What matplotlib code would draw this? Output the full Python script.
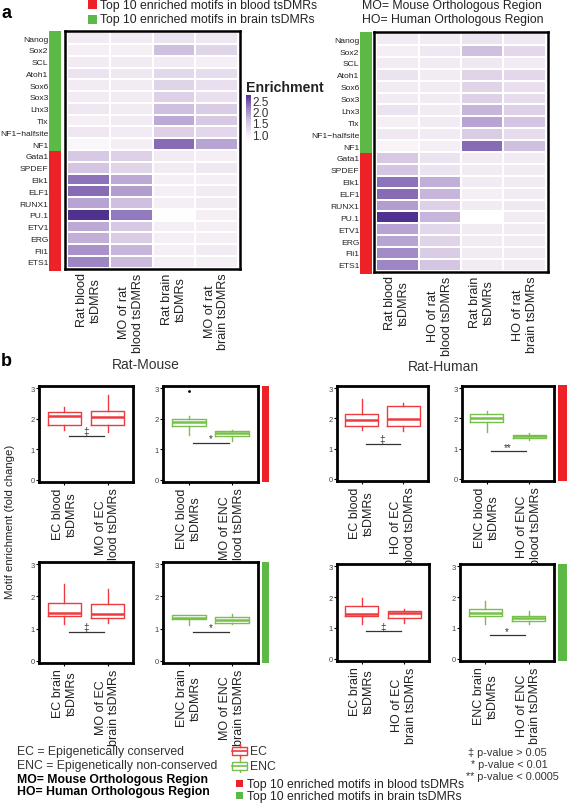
import numpy as np
import matplotlib.pyplot as plt
from matplotlib.colors import LinearSegmentedColormap
from matplotlib.patches import Rectangle

plt.rcParams['font.family'] = ['Liberation Sans', 'DejaVu Sans']

W, H = 567, 804
RED = '#ec2227'
GREEN = '#5cb946'
BOX_RED = '#ee3b3f'
BOX_GREEN = '#77c04b'

# ---- panel a data ----
motifs = ['Nanog', 'Sox2', 'SCL', 'Atoh1', 'Sox6', 'Sox3', 'Lhx3', 'Tlx',
          'NF1\u2212halfsite', 'NF1', 'Gata1', 'SPDEF', 'Elk1', 'ELF1', 'RUNX1',
          'PU.1', 'ETV1', 'ERG', 'Fli1', 'ETS1']
motif_group = ['brain'] * 10 + ['blood'] * 10

rm_cols = ['Rat blood\ntsDMRs', 'MO of rat\nblood tsDMRs',
           'Rat brain\ntsDMRs', 'MO of rat\nbrain tsDMRs']
rh_cols = ['Rat blood\ntsDMRs', 'HO of rat\nblood tsDMRs',
           'Rat brain\ntsDMRs', 'HO of rat\nbrain tsDMRs']

rm_heat = [
    [1.05, 1.05, 1.15, 1.10],
    [1.00, 1.00, 1.60, 1.35],
    [1.05, 1.05, 1.05, 1.00],
    [1.15, 1.10, 1.30, 1.25],
    [1.05, 1.05, 1.35, 1.20],
    [1.05, 1.05, 1.40, 1.20],
    [1.10, 1.05, 1.60, 1.45],
    [1.00, 1.05, 1.80, 1.50],
    [1.10, 1.05, 1.40, 1.30],
    [0.85, 1.00, 2.30, 1.85],
    [1.50, 1.40, 1.05, 1.00],
    [1.55, 1.35, 1.05, 1.10],
    [2.25, 1.80, 1.00, 1.00],
    [2.30, 1.90, 1.00, 1.05],
    [1.85, 1.60, 1.00, 1.05],
    [2.70, 2.20, 0.72, 1.00],
    [1.80, 1.50, 1.00, 1.00],
    [1.75, 1.45, 1.00, 1.00],
    [2.00, 1.70, 1.00, 1.05],
    [2.10, 1.65, 1.00, 1.00],
]
rh_heat = [
    [1.05, 1.05, 1.15, 1.10],
    [1.00, 1.10, 1.60, 1.30],
    [1.05, 1.05, 1.10, 1.05],
    [1.15, 1.05, 1.35, 1.30],
    [1.05, 1.05, 1.35, 1.20],
    [1.05, 1.05, 1.40, 1.25],
    [1.15, 1.05, 1.70, 1.40],
    [1.00, 1.05, 1.85, 1.55],
    [1.10, 1.05, 1.45, 1.25],
    [0.90, 1.00, 2.30, 1.60],
    [1.50, 1.15, 1.05, 1.05],
    [1.55, 1.15, 1.05, 1.05],
    [2.25, 1.75, 1.05, 1.05],
    [2.30, 1.70, 1.00, 1.05],
    [1.90, 1.40, 1.05, 1.10],
    [2.70, 1.70, 0.70, 1.05],
    [1.85, 1.30, 1.05, 1.05],
    [1.85, 1.35, 1.05, 1.05],
    [2.05, 1.45, 1.05, 1.05],
    [2.10, 1.55, 1.05, 1.05],
]
cbar_ticks = [1.0, 1.5, 2.0, 2.5]

# ---- panel b data: (whislo, q1, med, q3, whishi) per box ----
rm_blood_ec = [[1.64, 1.81, 2.08, 2.22, 2.38], [1.56, 1.80, 2.07, 2.26, 2.76]]
rm_blood_enc = [[1.48, 1.76, 1.89, 1.99, 2.09], [1.26, 1.43, 1.52, 1.60, 1.64]]
rm_brain_ec = [[1.13, 1.39, 1.49, 1.81, 2.40], [1.16, 1.34, 1.45, 1.77, 2.22]]
rm_brain_enc = [[1.11, 1.29, 1.34, 1.41, 1.43], [1.15, 1.18, 1.26, 1.35, 1.46]]
rh_blood_ec = [[1.62, 1.76, 1.95, 2.16, 2.63], [1.57, 1.74, 1.98, 2.41, 2.52]]
rh_blood_enc = [[1.56, 1.88, 2.01, 2.14, 2.24], [1.28, 1.36, 1.41, 1.45, 1.53]]
rh_brain_ec = [[1.13, 1.38, 1.44, 1.70, 1.96], [1.16, 1.33, 1.49, 1.56, 1.62]]
rh_brain_enc = [[1.14, 1.40, 1.47, 1.62, 1.87], [1.12, 1.23, 1.31, 1.40, 1.56]]
rm_blood_enc_fliers = [[2.92], []]

rm_blood_ec_labels = ['EC blood\ntsDMRs', 'MO of EC\nblood tsDMRs']
rm_blood_enc_labels = ['ENC blood\ntsDMRs', 'MO of ENC\nblood tsDMRs']
rm_brain_ec_labels = ['EC brain\ntsDMRs', 'MO of EC\nbrain tsDMRs']
rm_brain_enc_labels = ['ENC brain\ntsDMRs', 'MO of ENC\nbrain tsDMRs']
rh_blood_ec_labels = ['EC blood\ntsDMRs', 'HO of EC\nblood tsDMRs']
rh_blood_enc_labels = ['ENC blood\ntsDMRs', 'HO of ENC\nblood tsDMRs']
rh_brain_ec_labels = ['EC brain\ntsDMRs', 'HO of EC\nbrain tsDMRs']
rh_brain_enc_labels = ['ENC brain\ntsDMRs', 'HO of ENC\nbrain tsDMRs']

# significance bar heights and symbols
sig_y = {'rm_blood_ec': 1.45, 'rm_blood_enc': 1.21, 'rm_brain_ec': 0.90,
         'rm_brain_enc': 0.90, 'rh_blood_ec': 1.16, 'rh_blood_enc': 0.91,
         'rh_brain_ec': 0.89, 'rh_brain_enc': 0.77}
sig_sym = {'rm_blood_ec': '\u2021', 'rm_blood_enc': '*', 'rm_brain_ec': '\u2021',
           'rm_brain_enc': '*', 'rh_blood_ec': '\u2021', 'rh_blood_enc': '**',
           'rh_brain_ec': '\u2021', 'rh_brain_enc': '*'}

VMIN, VMAX = 0.7, 2.72
cmap = LinearSegmentedColormap.from_list(
    'enr', [(0, '#ffffff'), (0.15, '#f5eef5'), (0.45, '#d0c0e0'),
            (0.75, '#9278bd'), (1, '#4f2f8f')])


def px_axes(fig, x0, y0, x1, y1):
    return fig.add_axes([x0 / W, 1 - y1 / H, (x1 - x0) / W, (y1 - y0) / H])


def ftext(fig, x, y, s, **kw):
    kw.setdefault('va', 'center')
    fig.text(x / W, 1 - y / H, s, **kw)


def fsquare(fig, x0, y0, x1, y1, color):
    fig.add_artist(Rectangle((x0 / W, 1 - y1 / H), (x1 - x0) / W, (y1 - y0) / H,
                             transform=fig.transFigure, color=color, lw=0))


def draw_heatmap(fig, box, bar, values, col_labels, label_pad):
    ax = px_axes(fig, *box)
    vals = np.array(values)
    mesh = ax.pcolormesh(np.arange(vals.shape[1] + 1), np.arange(vals.shape[0] + 1),
                         vals, cmap=cmap, vmin=VMIN, vmax=VMAX,
                         edgecolors='#ffffff', linewidth=0.25)
    ax.set_xlim(-0.05, 4.05)
    ax.set_ylim(20.1, -0.1)
    ax.set_xticks(np.arange(4) + 0.5)
    ax.set_xticklabels(col_labels, rotation=90, ha='center', va='top',
                       multialignment='center', fontsize=9.1, color='#222222')
    ax.set_yticks(np.arange(20) + 0.5)
    ax.set_yticklabels(motifs, fontsize=6.1, color='#222222')
    ax.tick_params(length=0)
    ax.tick_params(axis='x', pad=2.5)
    ax.tick_params(axis='y', pad=label_pad)
    for s in ax.spines.values():
        s.set_linewidth(1.8)

    axb = px_axes(fig, *bar)
    n_brain = motif_group.count('brain')
    n_blood = motif_group.count('blood')
    axb.barh([n_brain / 2, n_brain + n_blood / 2], [1, 1],
             height=[n_brain, n_blood], color=[GREEN, RED])
    axb.set_xlim(0, 1)
    axb.set_ylim(len(motifs), 0)
    axb.axis('off')
    return mesh


def draw_box(fig, box, stats, color, labels, key, fliers=None):
    ax = px_axes(fig, *box)
    if fliers is None:
        fliers = [[], []]
    bstats = [dict(whislo=s[0], q1=s[1], med=s[2], q3=s[3], whishi=s[4], fliers=f)
              for s, f in zip(stats, fliers)]
    ax.bxp(bstats, positions=[1, 2], widths=0.78, showcaps=False,
           boxprops=dict(color=color, lw=1.0),
           medianprops=dict(color=color, lw=1.8),
           whiskerprops=dict(color=color, lw=1.0),
           flierprops=dict(marker='o', markersize=1.0, markerfacecolor='k',
                           markeredgecolor='k'))
    y = sig_y[key]
    ax.plot([1.1, 1.92], [y, y], color='#333333', lw=0.9)
    ax.text(1.5, y - 0.02, sig_sym[key], ha='center', va='bottom',
            fontsize=7, color='#333333')
    ax.set_xlim(0.41, 2.59)
    ax.set_ylim(-0.07, 3.07)
    ax.set_yticks([0, 1, 2, 3])
    ax.set_yticklabels(['0', '1', '2', '3'], fontsize=5.5, color='#444444')
    ax.set_xticks([1, 2])
    ax.set_xticklabels(labels, rotation=90, ha='center', va='top',
                       multialignment='center', fontsize=9.0, color='#222222')
    ax.tick_params(axis='y', length=2, width=0.8, pad=1)
    ax.tick_params(axis='x', length=2, width=0.8, pad=2)
    for s in ax.spines.values():
        s.set_linewidth(2)
    return ax


def side_bar(fig, box, color):
    ax = px_axes(fig, *box)
    ax.bar([0.5], [1], width=1, color=color)
    ax.set_xlim(0, 1)
    ax.set_ylim(0, 1)
    ax.axis('off')


fig = plt.figure(figsize=(W / 100, H / 100), dpi=100)
fig.patch.set_facecolor('white')

# ---------------- panel a ----------------
ftext(fig, 1, 14, 'a', fontsize=13, fontweight='bold')
fsquare(fig, 88, 1, 97, 10, RED)
fsquare(fig, 88, 16, 97, 25, GREEN)
ftext(fig, 100, 5.5, 'Top 10 enriched motifs in blood tsDMRs', fontsize=8.8, color='#222222')
ftext(fig, 100, 20.5, 'Top 10 enriched motifs in brain tsDMRs', fontsize=8.8, color='#222222')
ftext(fig, 362, 5.5, 'MO= Mouse Orthologous Region', fontsize=8.8, color='#222222')
ftext(fig, 362, 20.5, 'HO= Human Orthologous Region', fontsize=8.8, color='#222222')

mesh = draw_heatmap(fig, (65, 32, 240, 270), (49, 32, 61, 272), rm_heat, rm_cols, 12)
draw_heatmap(fig, (374, 33, 548, 273), (360, 33, 372, 275), rh_heat, rh_cols, 10.5)

cax = px_axes(fig, 246, 96, 251, 142)
cb = fig.colorbar(mesh, cax=cax, ticks=cbar_ticks)
cb.outline.set_visible(False)
cax.set_yticklabels([f'{t:.1f}' for t in cbar_ticks])
cax.tick_params(length=0, labelsize=8.5, pad=1, colors='#333333')
ftext(fig, 246, 88, 'Enrichment', fontsize=10.2, fontweight='bold', color='#222222')

# ---------------- panel b ----------------
ftext(fig, 1, 362, 'b', fontsize=13, fontweight='bold')
ftext(fig, 146, 365, 'Rat-Mouse', fontsize=10, color='#333333', ha='center')
ftext(fig, 443, 367, 'Rat-Human', fontsize=10, color='#333333', ha='center')
ftext(fig, 10, 522, 'Motif enrichment (fold change)', fontsize=8.2,
      color='#222222', rotation=90, ha='center')

draw_box(fig, (39, 387, 133, 483), rm_blood_ec, BOX_RED, rm_blood_ec_labels, 'rm_blood_ec')
draw_box(fig, (163, 387, 258, 483), rm_blood_enc, BOX_GREEN, rm_blood_enc_labels,
         'rm_blood_enc', rm_blood_enc_fliers)
draw_box(fig, (39, 563, 133, 664), rm_brain_ec, BOX_RED, rm_brain_ec_labels, 'rm_brain_ec')
draw_box(fig, (163, 563, 258, 664), rm_brain_enc, BOX_GREEN, rm_brain_enc_labels, 'rm_brain_enc')
side_bar(fig, (262, 387, 269, 483), RED)
side_bar(fig, (262, 563, 269, 664), GREEN)

draw_box(fig, (337, 387, 428, 482), rh_blood_ec, BOX_RED, rh_blood_ec_labels, 'rh_blood_ec')
draw_box(fig, (462, 387, 554, 482), rh_blood_enc, BOX_GREEN, rh_blood_enc_labels, 'rh_blood_enc')
draw_box(fig, (337, 565, 429, 662), rh_brain_ec, BOX_RED, rh_brain_ec_labels, 'rh_brain_ec')
draw_box(fig, (460, 565, 554, 662), rh_brain_enc, BOX_GREEN, rh_brain_enc_labels, 'rh_brain_enc')
side_bar(fig, (558, 386, 567, 482), RED)
side_bar(fig, (558, 565, 567, 662), GREEN)

# bottom legends
ftext(fig, 17, 752, 'EC = Epigenetically conserved', fontsize=8.8, color='#333333')
ftext(fig, 17, 766, 'ENC = Epigenetically non-conserved', fontsize=8.8, color='#333333')
ftext(fig, 17, 780, 'MO= Mouse Orthologous Region', fontsize=8.8, fontweight='bold', color='black')
ftext(fig, 17, 792, 'HO= Human Orthologous Region', fontsize=8.8, fontweight='bold', color='black')

leg = px_axes(fig, 228, 740, 262, 774)
leg.set_xlim(228, 262)
leg.set_ylim(774, 740)
leg.axis('off')
for yc, col in [(752, BOX_RED), (767, BOX_GREEN)]:
    leg.add_patch(Rectangle((232, yc - 4), 15, 8, fill=False, edgecolor=col, lw=1.0))
    leg.plot([232, 247], [yc, yc], color=col, lw=1.2)
    leg.plot([239.5, 239.5], [yc - 7, yc - 4], color=col, lw=1.0)
    leg.plot([239.5, 239.5], [yc + 4, yc + 7], color=col, lw=1.0)
ftext(fig, 250, 752, 'EC', fontsize=8.8, color='#333333')
ftext(fig, 250, 767, 'ENC', fontsize=8.8, color='#333333')

fsquare(fig, 236, 781, 243, 788, RED)
fsquare(fig, 236, 793, 243, 800, GREEN)
ftext(fig, 247, 785, 'Top 10 enriched motifs in blood tsDMRs', fontsize=8.8, color='#222222')
ftext(fig, 247, 797, 'Top 10 enriched motifs in brain tsDMRs', fontsize=8.8, color='#222222')

ftext(fig, 468, 753, '\u2021 p-value > 0.05', fontsize=7.8, color='#333333')
ftext(fig, 471, 765, '* p-value < 0.01', fontsize=7.8, color='#333333')
ftext(fig, 466, 777, '** p-value < 0.0005', fontsize=7.8, color='#333333')

fig.savefig('out.png', dpi=100, facecolor='white')
